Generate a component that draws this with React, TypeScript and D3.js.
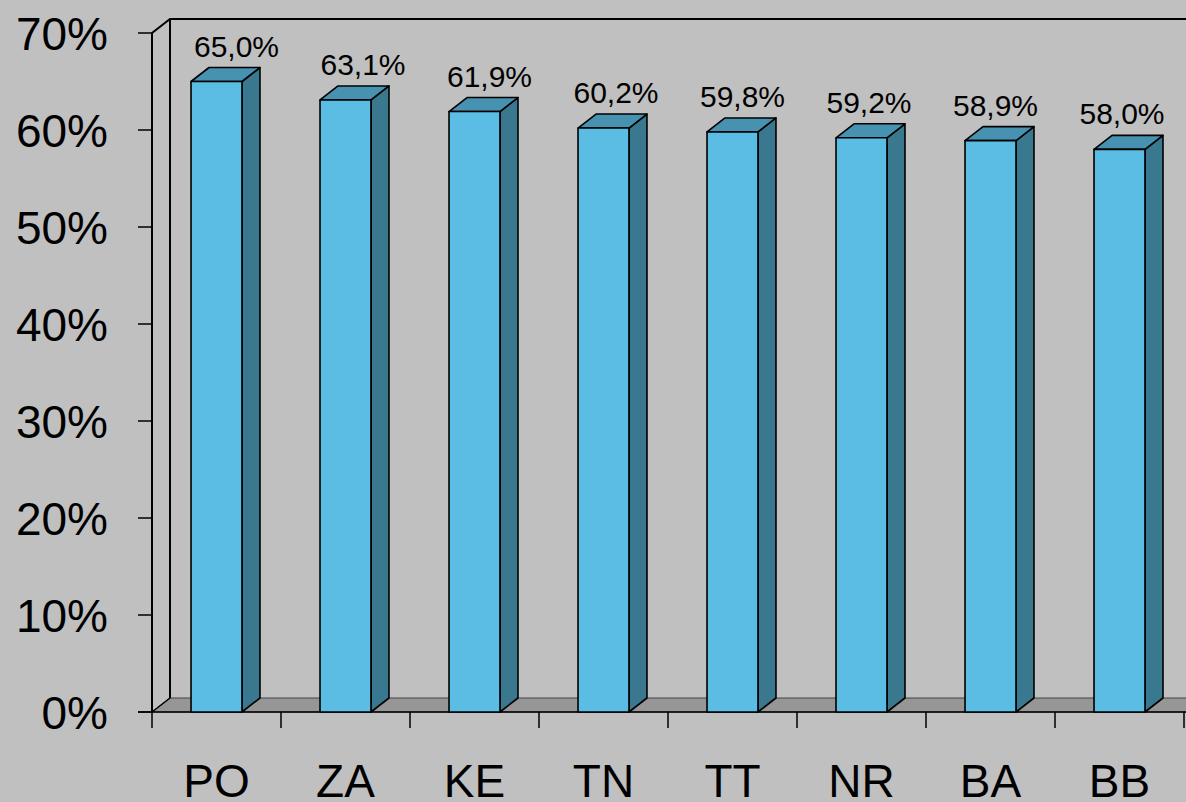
import React from 'react';
import * as d3 from 'd3';

// data
const regions = ['PO', 'ZA', 'KE', 'TN', 'TT', 'NR', 'BA', 'BB'];
const shares = [65.0, 63.1, 61.9, 60.2, 59.8, 59.2, 58.9, 58.0];
const yTicks = [0, 10, 20, 30, 40, 50, 60, 70];

const W = 1186;
const H = 802;
const font = '"Liberation Sans", Arial, sans-serif';

export default function App() {
  const left = 152;
  const right = 1184;
  const y0 = 712;
  const y70 = 33;
  const dx = 18; // 3d depth
  const dy = -14;

  const x = d3.scaleBand().domain(regions).range([left, right]).paddingInner(0.605).paddingOuter(0.3025);
  const xb = d3.scaleBand().domain(regions).range([left, right]);
  const y = d3.scaleLinear().domain([0, 70]).range([y0, y70]);

  const fmt = (v: number) => v.toFixed(1).replace('.', ',') + '%';

  const front = '#5bbde3';
  const top = '#4692b0';
  const side = '#3a7890';

  return (
    <svg width={W} height={H} style={{ position: 'absolute', left: 0, top: 0, background: '#c0c0c0' }}>
      <rect x={0} y={0} width={W} height={H} fill="#c0c0c0" />
      {/* floor */}
      <polygon
        points={`${left},${y0} ${left + dx},${y0 + dy} ${right + dx + 20},${y0 + dy} ${right + 20},${y0}`}
        fill="#969696"
        stroke="#444"
        strokeWidth={1}
      />
      {/* walls */}
      <path
        d={`M${left},${y0} L${left},${y(70)} L${left + dx},${y(70) + dy} L${W + 10},${y(70) + dy}`}
        fill="none"
        stroke="#000"
        strokeWidth={2}
      />
      <path d={`M${left + dx},${y(70) + dy} L${left + dx},${y0 + dy}`} stroke="#000" strokeWidth={2} />
      <path d={`M${left},${y0} L${left + dx},${y0 + dy}`} stroke="#000" strokeWidth={1.5} />
      <line x1={left - 14} x2={right + 4} y1={y0} y2={y0} stroke="#000" strokeWidth={1.5} />

      {/* y axis */}
      {yTicks.map((t) => (
        <g key={t}>
          <line x1={left - 14} x2={left} y1={y(t)} y2={y(t)} stroke="#000" strokeWidth={1.5} />
          <text x={108} y={y(t)} dy="0.36em" textAnchor="end" fontFamily={font} fontSize={46} fill="#000">
            {t}%
          </text>
        </g>
      ))}

      {/* x ticks */}
      {regions.map((r) => (
        <line key={r} x1={xb(r)!} x2={xb(r)!} y1={y0} y2={y0 + 16} stroke="#000" strokeWidth={1.5} />
      ))}
      <line x1={right} x2={right} y1={y0} y2={y0 + 16} stroke="#000" strokeWidth={1.5} />

      {/* bars */}
      {regions.map((r, i) => {
        const bx = x(r)!;
        const bw = x.bandwidth();
        const by = y(shares[i]);
        return (
          <g key={r} stroke="#000" strokeWidth={1.6} strokeLinejoin="round">
            <polygon
              points={`${bx + bw},${by} ${bx + bw + dx},${by + dy} ${bx + bw + dx},${y0 + dy} ${bx + bw},${y0}`}
              fill={side}
            />
            <polygon
              points={`${bx},${by} ${bx + dx},${by + dy} ${bx + bw + dx},${by + dy} ${bx + bw},${by}`}
              fill={top}
            />
            <rect x={bx} y={by} width={bw} height={y0 - by} fill={front} />
          </g>
        );
      })}

      {/* value labels */}
      {regions.map((r, i) => (
        <text
          key={r}
          x={x(r)! + x.bandwidth() / 2 + 20 - i * 2.5}
          y={y(shares[i]) + dy - 11}
          textAnchor="middle"
          fontFamily={font}
          fontSize={30}
          fill="#000"
        >
          {fmt(shares[i])}
        </text>
      ))}

      {/* category labels */}
      {regions.map((r) => (
        <text
          key={r}
          x={xb(r)! + xb.bandwidth() / 2}
          y={797}
          textAnchor="middle"
          fontFamily={font}
          fontSize={46}
          fill="#000"
        >
          {r}
        </text>
      ))}
    </svg>
  );
}
